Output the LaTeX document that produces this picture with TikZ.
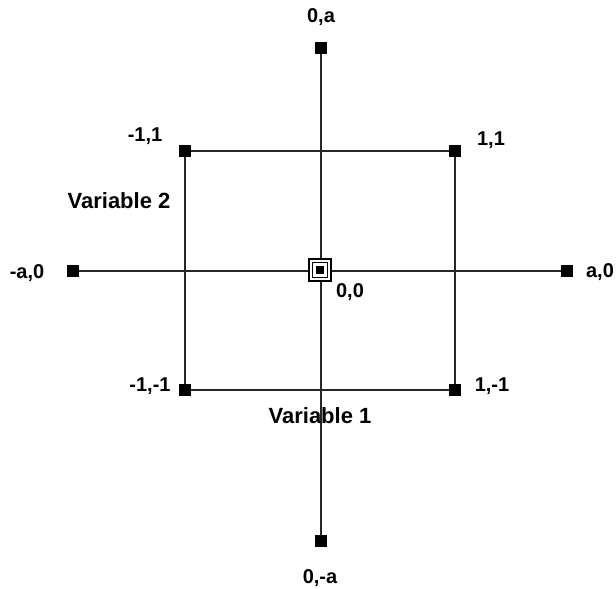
\documentclass[tikz,border=0pt]{standalone}
\usepackage{fontspec}
\setmainfont{Liberation Sans}
\usepackage{tikz}
\usetikzlibrary{positioning}
\tikzset{
  sq/.style={rectangle, fill=black, minimum size=12pt, inner sep=0pt},
  lbl/.style={font=\fontsize{20}{23}\selectfont\bfseries, inner sep=0pt},
  vlbl/.style={font=\fontsize{22}{25}\selectfont\bfseries, inner sep=0pt},
  ln/.style={line width=1.3pt, color=black!85},
}

\begin{document}
\begin{tikzpicture}[x=1pt, y=-1pt]
\useasboundingbox (0,0) rectangle (616,589);

% design points
\node[sq] (top) at (321,48) {};
\node[sq] (bot) at (321,541) {};
\node[sq] (lft) at (73,271) {};
\node[sq] (rgt) at (567,271) {};
\node[sq] (c11) at (185,151) {};
\node[sq] (c21) at (455,151) {};
\node[sq] (c22) at (455,390) {};
\node[sq] (c12) at (185,390) {};
\coordinate (mid) at (320,270);

% axes and square
\draw[ln] (top) -- (bot);
\draw[ln] (lft) -- (rgt);
\draw[ln] (c11) -- (c21) -- (c22) -- (c12) -- (c11);

% center point
\node[draw, line width=1.3pt, fill=white, minimum size=22pt, inner sep=0pt] (cpt) at (mid) {};
\node[draw, line width=1.3pt, minimum size=15pt, inner sep=0pt] at (mid) {};
\node[sq, minimum size=8pt] at (mid) {};

% labels
\node[lbl] at (321,17) {0,a};
\node[lbl] at (320,578) {0,-a};
\node[lbl] at (27,273) {-a,0};
\node[lbl] at (600,272) {a,0};
\node[lbl] at (145,136) {-1,1};
\node[lbl] at (491,140) {1,1};
\node[lbl] at (150,386) {-1,-1};
\node[lbl] at (492,386) {1,-1};
\node[lbl] at (350,292) {0,0};
\node[vlbl] at (119,201) {Variable 2};
\node[vlbl] at (320,416) {Variable 1};

\end{tikzpicture}
\end{document}
